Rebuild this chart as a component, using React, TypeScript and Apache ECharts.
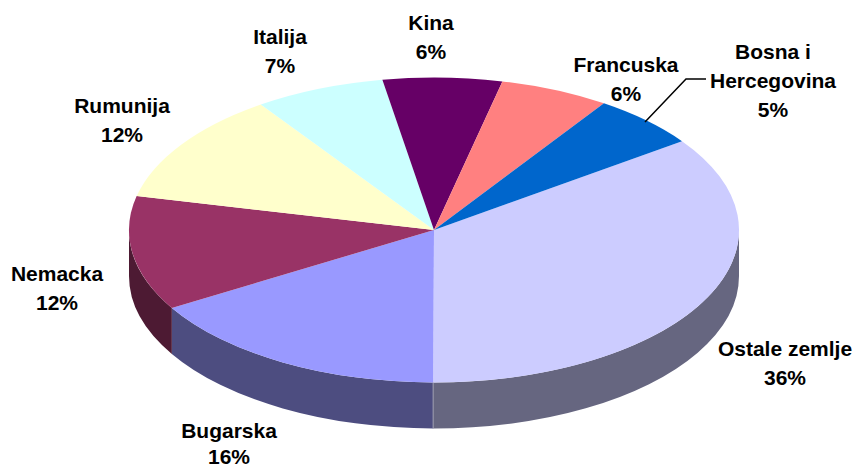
import React, { useEffect, useRef } from "react";
import * as echarts from "echarts";

const categories = ["Ostale zemlje", "Bugarska", "Nemacka", "Rumunija", "Italija", "Kina", "Francuska", "Bosna i\nHercegovina"];
const shares = [34.9, 16.4, 12.1, 11.8, 6.9, 6.3, 5.8, 5.7];
// percentages as printed on the labels
const printedPercents = [36, 16, 12, 12, 7, 6, 6, 5];

const topColors = ["#CCCCFF", "#9999FF", "#993366", "#FFFFCC", "#CCFFFF", "#660066", "#FF8080", "#0066CC"];
const sideColors = ["#666680", "#4D4D80", "#4D1A33", "#808066", "#668080", "#330033", "#804040", "#003366"];
const labelCenters: [number, number][] = [
  [785, 363], [229, 445], [57, 288], [122, 120], [280, 51], [431, 37], [626, 79], [773, 80],
];
const LINE_HEIGHT = 29;
const MAX_TEXT_Y = 456.5; // keeps the lowest line's box inside the page

const CX = 434, CY = 230, RX = 305, RY = 152.5, DEPTH = 46, START_DEG = 54.4;
const total = shares.reduce((a, b) => a + b, 0);

const pt = (deg: number, dy = 0) => {
  const r = (deg * Math.PI) / 180;
  return [CX + RX * Math.sin(r), CY - RY * Math.cos(r) + dy];
};
const fmt = (p: number[]) => `${p[0].toFixed(2)} ${p[1].toFixed(2)}`;
const arcPath = (from: number, to: number, dy = 0) => {
  const parts: string[] = [];
  const step = 60;
  let a = from;
  while (a < to) {
    const b = Math.min(a + step, to);
    parts.push(`A ${RX} ${RY} 0 0 1 ${fmt(pt(b, dy))}`);
    a = b;
  }
  return parts.join(" ");
};
const revArcPath = (from: number, to: number, dy = 0) => {
  const parts: string[] = [];
  const step = 60;
  let a = to;
  while (a > from) {
    const b = Math.max(a - step, from);
    parts.push(`A ${RX} ${RY} 0 0 0 ${fmt(pt(b, dy))}`);
    a = b;
  }
  return parts.join(" ");
};

export default function App() {
  const ref = useRef<HTMLDivElement>(null);
  useEffect(() => {
    document.body.style.margin = "0";
    const chart = echarts.init(ref.current!, undefined, { renderer: "svg" });
    const startOf = (i: number) =>
      START_DEG + (shares.slice(0, i).reduce((a, b) => a + b, 0) / total) * 360;

    const labelElements = categories.flatMap((c, i) => {
      const lines = `${c}\n${printedPercents[i]}%`.split("\n");
      return lines.map((line, j) => ({
        type: "text",
        x: labelCenters[i][0],
        y: Math.min(labelCenters[i][1] + (j - (lines.length - 1) / 2) * LINE_HEIGHT, MAX_TEXT_Y),
        z: 21,
        style: {
          text: line,
          font: 'bold 21px "Liberation Sans", Arial, sans-serif',
          fill: "#000",
          align: "center",
          verticalAlign: "middle",
        },
      }));
    });

    chart.setOption({
      animation: false,
      backgroundColor: "#fff",
      series: [
        {
          type: "custom",
          coordinateSystem: "none",
          silent: true,
          data: shares.map((v) => [v]),
          renderItem: (params: any, api: any) => {
            const i = params.dataIndex;
            const a0 = startOf(i);
            const a1 = a0 + (api.value(0) / total) * 360;
            const children: any[] = [];
            const s0 = Math.max(a0, 90);
            const s1 = Math.min(a1, 270);
            if (s1 > s0) {
              const d = `M ${fmt(pt(s0))} ${arcPath(s0, s1)} L ${fmt(pt(s1, DEPTH))} ${revArcPath(s0, s1, DEPTH)} Z`;
              children.push({
                type: "path",
                shape: { pathData: d },
                style: { fill: sideColors[i], stroke: null },
              });
            }
            if (i === 0) {
              const p0 = pt(a1), p1 = pt(a1, DEPTH);
              children.push({
                type: "line",
                shape: { x1: p0[0], y1: p0[1], x2: p1[0], y2: p1[1] },
                style: { stroke: "#9c9cae", lineWidth: 1 },
                z2: 5,
              });
            }
            const d = `M ${CX} ${CY} L ${fmt(pt(a0))} ${arcPath(a0, a1)} Z`;
            children.push({
              type: "path",
              shape: { pathData: d },
              style: { fill: topColors[i], stroke: null },
              z2: 10,
            });
            return { type: "group", children };
          },
        },
      ],
      graphic: {
        elements: [
          {
            type: "polyline",
            shape: { points: [[645, 122], [686, 79], [706, 79]] },
            style: { stroke: "#000", lineWidth: 1.5, fill: null },
            z: 20,
          },
          ...labelElements,
        ],
      },
    });
    return () => chart.dispose();
  }, []);
  return <div ref={ref} style={{ width: 856, height: 469, position: "absolute", left: 0, top: 0 }} />;
}
